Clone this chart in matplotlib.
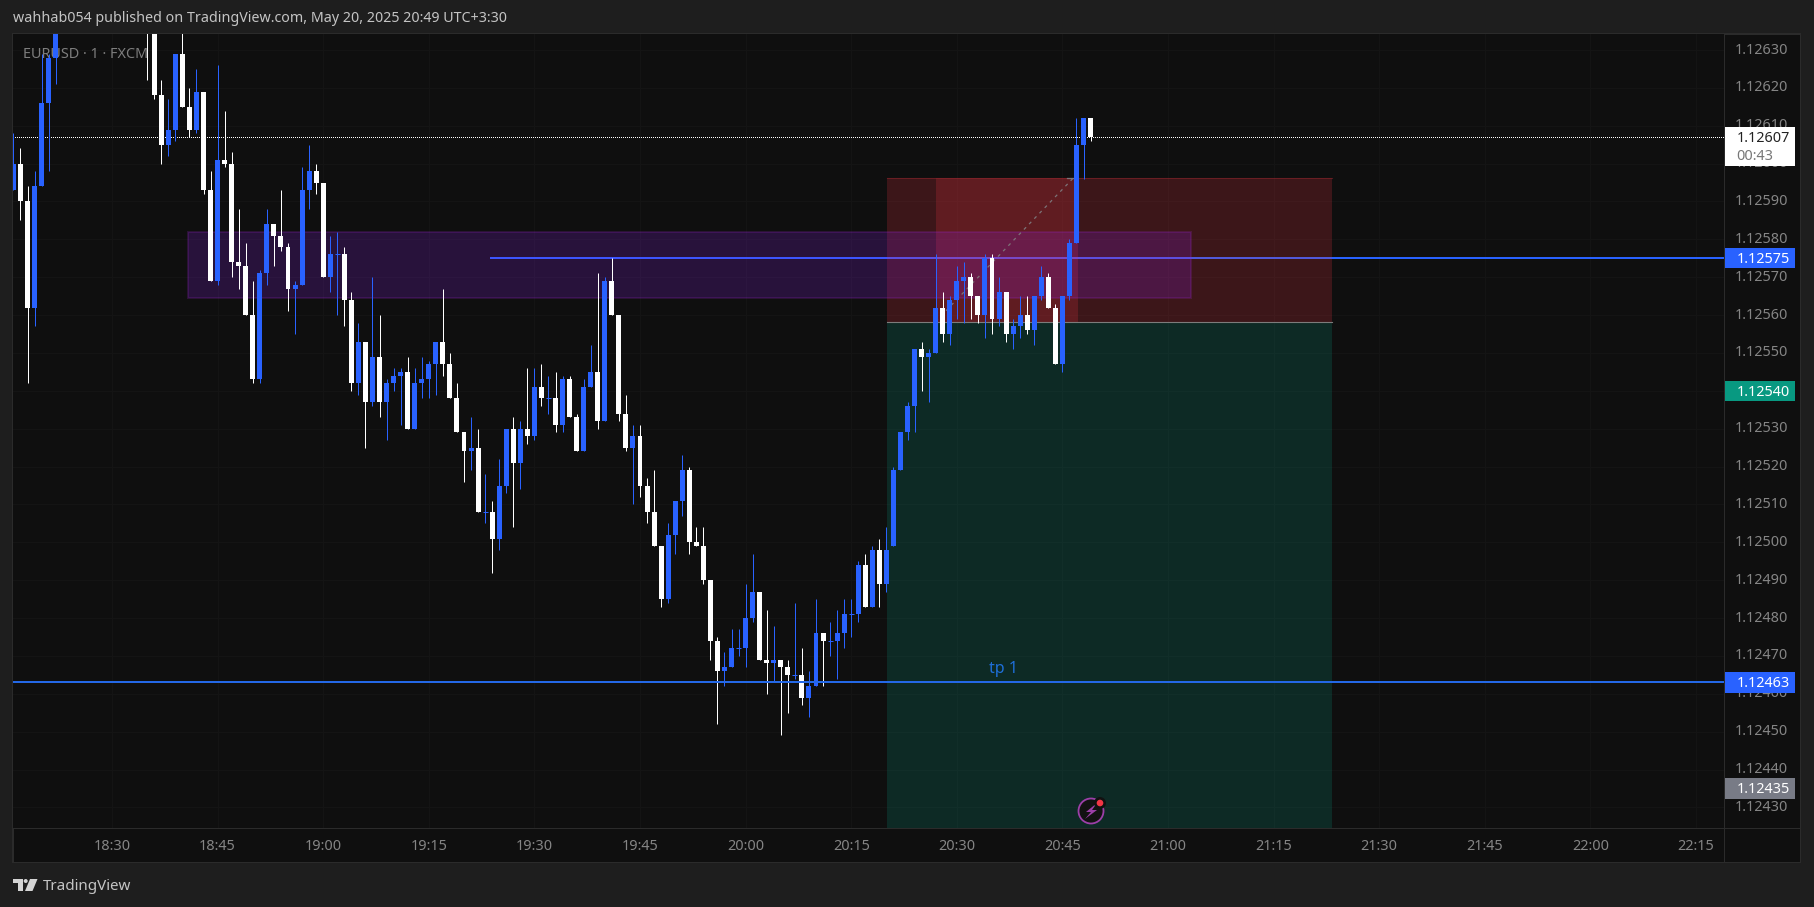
import numpy as np
import matplotlib
matplotlib.use('Agg')
import matplotlib.pyplot as plt
from matplotlib.patches import Rectangle, Polygon, Circle
from matplotlib.transforms import Affine2D

plt.rcParams['font.family'] = ['Noto Sans', 'DejaVu Sans']

W, H = 1814, 907

# candles, one a minute from 18:16. prices in 1e-5, so 12593 is 1.12593
# the 12 None bars sit above the top of the pane and cannot be seen
opens = [12593, 12600, 12590, 12562, 12594, 12616, 12628] + [None] * 12 + [
    12640, 12640, 12618, 12605, 12609, 12629, 12615, 12609, 12619, 12593,
    12569, 12601, 12600, 12574, 12573, 12560, 12543, 12571, 12584, 12581,
    12578, 12567, 12568, 12593, 12598, 12595, 12570, 12576, 12576, 12564,
    12542, 12553, 12537, 12549, 12537, 12542, 12544, 12545, 12530, 12542,
    12543, 12547, 12553, 12547, 12538, 12529, 12524, 12525, 12508, 12508,
    12501, 12515, 12530, 12521, 12530, 12528, 12541, 12538, 12538, 12531,
    12543, 12533, 12524, 12541, 12545, 12532, 12569, 12560, 12534, 12525,
    12528, 12515, 12508, 12499, 12485, 12502, 12511, 12519, 12500, 12499,
    12490, 12474, 12466, 12467, 12472, 12472, 12480, 12487, 12469, 12468,
    12469, 12467, 12465, 12465, 12459, 12462, 12476, 12474, 12474, 12476,
    12481, 12481, 12494, 12483, 12498, 12489, 12499, 12519, 12529, 12536,
    12551, 12549, 12550, 12562, 12555, 12564, 12569, 12570, 12565, 12560,
    12575, 12559, 12566, 12555, 12557, 12560, 12556, 12565, 12570, 12562,
    12547, 12565, 12579, 12605, 12612]
closes = [12600, 12590, 12562, 12594, 12616, 12628, 12640] + [None] * 12 + [
    12636, 12618, 12605, 12609, 12629, 12615, 12609, 12619, 12593, 12569,
    12601, 12600, 12574, 12573, 12560, 12543, 12571, 12584, 12581, 12578,
    12567, 12568, 12593, 12598, 12595, 12570, 12576, 12576, 12564, 12542,
    12553, 12537, 12549, 12537, 12542, 12544, 12545, 12530, 12542, 12543,
    12547, 12553, 12547, 12538, 12529, 12524, 12525, 12508, 12508, 12501,
    12515, 12530, 12521, 12530, 12528, 12541, 12538, 12538, 12531, 12543,
    12533, 12524, 12541, 12545, 12532, 12569, 12560, 12534, 12525, 12528,
    12515, 12508, 12499, 12485, 12502, 12511, 12519, 12500, 12499, 12490,
    12474, 12466, 12467, 12472, 12472, 12480, 12487, 12469, 12468, 12469,
    12467, 12465, 12465, 12459, 12462, 12476, 12474, 12474, 12476, 12481,
    12481, 12494, 12483, 12498, 12489, 12498, 12519, 12529, 12536, 12551,
    12549, 12550, 12562, 12555, 12564, 12569, 12570, 12565, 12560, 12575,
    12559, 12566, 12555, 12557, 12560, 12556, 12565, 12570, 12562, 12547,
    12565, 12579, 12605, 12612, 12607]
highs = [12608, 12604, 12594, 12598, 12629, 12629, 12645] + [None] * 12 + [
    12642, 12642, 12622, 12617, 12629, 12636, 12620, 12625, 12619, 12598,
    12626, 12614, 12603, 12588, 12579, 12569, 12572, 12588, 12584, 12593,
    12579, 12569, 12599, 12605, 12600, 12595, 12581, 12582, 12578, 12566,
    12558, 12553, 12570, 12560, 12543, 12546, 12546, 12549, 12546, 12549,
    12548, 12553, 12567, 12550, 12542, 12529, 12533, 12530, 12518, 12511,
    12522, 12530, 12533, 12532, 12546, 12546, 12547, 12544, 12545, 12544,
    12544, 12534, 12543, 12552, 12571, 12570, 12575, 12560, 12539, 12531,
    12531, 12517, 12519, 12499, 12505, 12511, 12523, 12520, 12504, 12504,
    12490, 12475, 12471, 12477, 12477, 12489, 12497, 12487, 12482, 12478,
    12469, 12469, 12484, 12472, 12466, 12485, 12476, 12479, 12482, 12485,
    12485, 12495, 12497, 12499, 12501, 12504, 12520, 12529, 12537, 12551,
    12553, 12551, 12576, 12566, 12565, 12573, 12574, 12571, 12565, 12576,
    12576, 12570, 12566, 12559, 12565, 12565, 12565, 12573, 12571, 12563,
    12565, 12580, 12612, 12612, 12612]
lows = [12593, 12585, 12542, 12557, 12594, 12598, 12621] + [None] * 12 + [
    12622, 12617, 12600, 12602, 12606, 12615, 12607, 12608, 12592, 12569,
    12568, 12599, 12570, 12567, 12560, 12542, 12542, 12568, 12573, 12577,
    12561, 12555, 12568, 12588, 12592, 12570, 12566, 12560, 12557, 12540,
    12539, 12525, 12536, 12533, 12527, 12540, 12531, 12530, 12530, 12538,
    12538, 12539, 12544, 12538, 12529, 12516, 12519, 12508, 12505, 12492,
    12498, 12513, 12504, 12514, 12526, 12527, 12536, 12534, 12529, 12529,
    12533, 12524, 12524, 12541, 12530, 12532, 12560, 12532, 12524, 12510,
    12512, 12505, 12499, 12483, 12484, 12497, 12507, 12497, 12499, 12489,
    12469, 12452, 12462, 12467, 12470, 12467, 12479, 12469, 12460, 12463,
    12449, 12455, 12464, 12457, 12454, 12462, 12462, 12470, 12464, 12472,
    12475, 12479, 12483, 12483, 12483, 12487, 12499, 12519, 12527, 12529,
    12540, 12537, 12550, 12553, 12552, 12559, 12558, 12559, 12558, 12554,
    12555, 12557, 12553, 12551, 12554, 12555, 12552, 12564, 12562, 12547,
    12545, 12564, 12579, 12596, 12606]

first_bar_minute = -14  # minutes from 18:30

time_ticks = [0, 15, 30, 45, 60, 75, 90, 105, 120, 135, 150, 165, 180, 195, 210, 225]
time_labels = ['18:30', '18:45', '19:00', '19:15', '19:30', '19:45', '20:00', '20:15',
               '20:30', '20:45', '21:00', '21:15', '21:30', '21:45', '22:00', '22:15']
bold_labels = ['19:00', '20:00', '21:00', '22:00']

price_ticks = [1.1263, 1.1262, 1.1261, 1.1260, 1.1259, 1.1258, 1.1257, 1.1256, 1.1255, 1.1254,
               1.1253, 1.1252, 1.1251, 1.1250, 1.1249, 1.1248, 1.1247, 1.1246, 1.1245, 1.1244, 1.1243]

last_price = 1.12607
resistance = 1.12575
tp_level = 1.12463
entry = 1.125583
stop = 1.125963
target = 1.12400
zone_top = 1.12582
zone_bottom = 1.125645

BG = '#1e1e1e'
PANE = '#0f0f0f'
EDGE = '#2b2b2b'
GRID = '#141414'
BLUE = '#2962ff'
WHITE = '#ffffff'
LABEL = '#858585'

px = Affine2D().scale(1, -1).translate(0, H)


def px_rect(x0, y0, x1, y1, color, zorder=-1):
    fig.add_artist(Rectangle((x0, y0), x1 - x0, y1 - y0, transform=px, facecolor=color,
                             edgecolor='none', zorder=zorder))


def price_tag(price, text, color, text_color='white', up=10.2, down=10.2):
    # tag on the price scale, x in axes fraction and y in price
    trans = ax.get_yaxis_transform()
    y0 = price - down / px_per_price
    ax.add_patch(Rectangle((1.0006, y0), 0.0409, (up + down) / px_per_price, transform=trans,
                           facecolor=color, edgecolor='none', clip_on=False, zorder=6))
    ax.text(1.0074, price - 1.3 / px_per_price, text, transform=trans, color=text_color, fontsize=10.4,
            va='center', ha='left', clip_on=False, zorder=7)


fig = plt.figure(figsize=(W / 100, H / 100), dpi=100, facecolor=BG)

# the frame around the chart
px_rect(12, 33, 1801, 863, EDGE, zorder=-3)
px_rect(14, 35, 1800, 862, PANE, zorder=-2)
px_rect(13, 828, 1800, 829, EDGE)
px_rect(1724, 34, 1725, 862, EDGE)

ax = fig.add_axes([13 / W, 1 - 828 / H, 1711 / W, 794 / H], facecolor=PANE)
px_per_price = 3.787e5
ax.set_xlim((13 - 112) / 7.04, (1724 - 112) / 7.04)
ax.set_ylim(1.1263 - (828 - 50) / px_per_price, 1.1263 + (50 - 34) / px_per_price)
for s in ax.spines.values():
    s.set_visible(False)

ax.set_xticks(time_ticks)
ax.set_xticklabels(time_labels, fontsize=10.4, color=LABEL)
for t in ax.get_xticklabels():
    if t.get_text() in bold_labels:
        t.set_fontweight('bold')
ax.set_yticks(price_ticks)
ax.set_yticklabels(['%.5f' % p for p in price_ticks], fontsize=10.4, color=LABEL)
ax.yaxis.tick_right()
ax.tick_params(axis='x', length=0, pad=8)
ax.tick_params(axis='y', length=0, pad=8)
for t in ax.get_yticklabels():
    t.set_va('center')
ax.grid(True, color=GRID, linewidth=0.72, zorder=0.5)
ax.set_axisbelow(True)

ax.text(23, 54, 'EURUSD \u00b7 1 \u00b7 FXCM', transform=px, color='#7e7e7e', fontsize=10.4, va='center',
        ha='left', zorder=0.8)

o = np.array(opens, dtype=float) / 1e5 + 1
c = np.array(closes, dtype=float) / 1e5 + 1
h = np.array(highs, dtype=float) / 1e5 + 1
l = np.array(lows, dtype=float) / 1e5 + 1
minutes = first_bar_minute + np.arange(len(o))
colors = np.where(c >= o, BLUE, WHITE)
good = ~np.isnan(o)

# levels under the boxes
ax.axhline(last_price, color='#ffffff', linewidth=0.72, linestyle=(0, (1, 2)), antialiased=False, zorder=1)
ax.plot([53.8, ax.get_xlim()[1]], [resistance, resistance], color=BLUE, linewidth=1.44, zorder=1)

# position tool and the purple zone
ax.add_patch(Rectangle((110.1, entry), 63.2, stop - entry, facecolor=(0.949, 0.212, 0.271, 0.2),
                       edgecolor='none', zorder=2))
ax.add_patch(Rectangle((110.1, target), 63.2, entry - target, facecolor=(0.031, 0.6, 0.506, 0.2),
                       edgecolor='none', zorder=2))
ax.add_patch(Rectangle((117, entry), 20.2, stop - entry, facecolor=(0.949, 0.212, 0.271, 0.2),
                       edgecolor='none', zorder=2))
ax.plot([110.1, 173.3], [entry, entry], color='#7c7c7c', linewidth=0.8, zorder=2.2)
ax.plot([110.1, 173.3], [stop, stop], color=(0.6, 0.15, 0.18, 0.5), linewidth=0.8, zorder=2.2)
ax.add_patch(Rectangle((10.8, zone_bottom), 142.5, zone_top - zone_bottom, facecolor=(0.59, 0.12, 0.98, 0.19),
                       edgecolor=(0.6, 0.15, 0.8, 0.2), linewidth=1.44, zorder=2.1))
ax.plot([117, 136.6], [entry, stop], color='#7d7478', linewidth=0.9, linestyle=(0, (2.5, 3.5)), zorder=2.3)
ax.plot([135.6, 136.6], [stop, stop], color='#7d7478', linewidth=0.9, zorder=2.3)

# candles
ax.vlines(minutes[good], l[good], h[good], colors=colors[good], linewidth=0.72, zorder=3)
ax.bar(minutes[good], (c - o)[good], bottom=o[good], width=0.71, color=colors[good], linewidth=0, zorder=3.1)
flat = good & (c == o)
ax.hlines(o[flat], minutes[flat] - 0.355, minutes[flat] + 0.355, colors=colors[flat], linewidth=0.72, zorder=3.1)

ax.axhline(tp_level, color='#2468e6', linewidth=1.44, zorder=4)
ax.text(126.6, 1.124665, 'tp 1', color='#1e6fd9', fontsize=11.5, ha='center', va='center', zorder=5)

# price tags
price_tag(last_price, '1.12607', WHITE, '#222222', up=10, down=29)
ax.text(1.0074, last_price - 19 / px_per_price, '00:43', transform=ax.get_yaxis_transform(), color='#777777',
        fontsize=10.4, va='center', ha='left', clip_on=False, zorder=7)
price_tag(resistance, '1.12575', BLUE)
price_tag(1.12540, '1.12540', '#089981')
price_tag(tp_level, '1.12463', BLUE)
price_tag(1.12435, '1.12435', '#787b86')

# header and footer
fig.text(13, 19, 'wahhab054 published on TradingView.com, May 20, 2025 20:49 UTC+3:30', transform=px,
         color='#c4c4c4', fontsize=10.25, va='center', ha='left')
fig.text(43, 886, 'TradingView', transform=px, color='#c4c4c4', fontsize=10.9, va='center', ha='left')
fig.add_artist(Polygon([(13, 879), (23, 879), (23, 891), (17.5, 891), (17.5, 883), (13, 883)], transform=px,
                       facecolor='#d4d4d4', edgecolor='none'))
fig.add_artist(Circle((25.7, 881), 2, transform=px, facecolor='#d4d4d4', edgecolor='none'))
fig.add_artist(Polygon([(30, 879), (37.5, 879), (32.5, 891), (25, 891)], transform=px,
                       facecolor='#d4d4d4', edgecolor='none'))

# lightning badge
fig.add_artist(Circle((1091, 811), 12.5, transform=px, facecolor='#121212', edgecolor='#9c3fa8', linewidth=1.3, zorder=8))
fig.add_artist(Polygon([(1097, 803), (1086, 812), (1091, 812), (1085, 819), (1097, 810), (1092, 810)], transform=px,
                       facecolor='#9c3fa8', edgecolor='none', zorder=9))
fig.add_artist(Circle((1100, 803), 6, transform=px, facecolor='#111111', edgecolor='none', zorder=9))
fig.add_artist(Circle((1100, 803), 3.3, transform=px, facecolor='#f23645', edgecolor='none', zorder=10))

fig.savefig('out.png', dpi=100, facecolor=BG)
